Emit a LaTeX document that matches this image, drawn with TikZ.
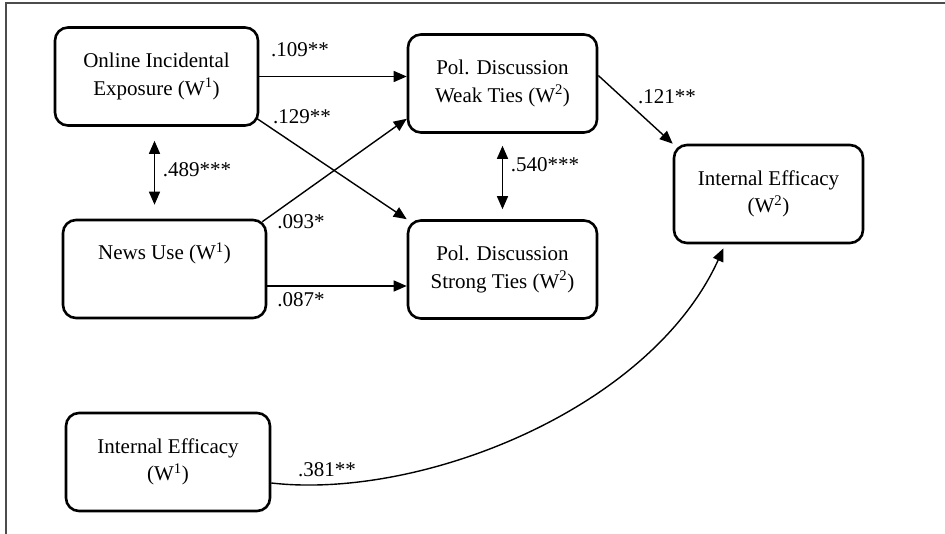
\documentclass[tikz,border=0pt]{standalone}
\usepackage{fontspec}
\setmainfont{Liberation Serif}
\usetikzlibrary{arrows.meta}

\begin{document}
\begin{tikzpicture}[
	x=1pt, y=-1pt,
	every node/.style={font=\fontsize{21}{27.5}\selectfont},
	construct/.style={rectangle, draw, line width=2.6pt, rounded corners=13pt,
		align=center, inner sep=0pt, minimum height=98pt},
	path/.style={line width=1.4pt, -{Triangle[length=13pt,width=11pt]}},
	twoway/.style={line width=1.4pt, {Triangle[length=13pt,width=11pt]}-{Triangle[length=13pt,width=11pt]}},
	est/.style={inner sep=0pt},
	]
\useasboundingbox (0,0) rectangle (945,534);
% frame
\draw[line width=2pt, black!70] (6,534) -- (6,3) -- (945,3);

% constructs
\node [construct, minimum width=203pt] (oie) at (156.5,76.5) {Online Incidental\\Exposure (W\textsuperscript{1})};
\node [construct, minimum width=203pt] (nu) at (164.5,269) {News Use (W\textsuperscript{1})\\ \strut};
\node [construct, minimum width=189pt] (wt) at (502.5,83.5) {Pol. Discussion\\Weak Ties (W\textsuperscript{2})};
\node [construct, minimum width=189pt] (st) at (502.5,269.5) {Pol. Discussion\\Strong Ties (W\textsuperscript{2})};
\node [construct, minimum width=189pt] (ie2) at (768.5,194) {Internal Efficacy\\(W\textsuperscript{2})};
\node [construct, minimum width=204pt] (ie1) at (168,462) {Internal Efficacy\\(W\textsuperscript{1})};

% paths
\draw[path] (oie.east) -- (oie.east -| wt.west);
\draw[path] ([xshift=-2pt,yshift=8pt]oie.south east) -- (st.north west);
\draw[path] ([xshift=-5pt,yshift=-3pt]nu.north east) -- ([yshift=15pt]wt.south west);
\draw[path] ([yshift=-17pt]nu.east) -- ([yshift=-17pt]nu.east -| st.west);
\draw[path] ([yshift=8pt]wt.east) -- (ie2.north west);
\draw[path] (ie1.east |- 0,483) .. controls (420,500) and (650,410) .. ([xshift=-45pt,yshift=-4pt]ie2.south);
\draw[twoway, shorten <=14pt, shorten >=14pt] ([xshift=-2pt]oie.south) -- ([xshift=-2pt]oie.south |- nu.north);
\draw[twoway, shorten <=12pt, shorten >=10pt] (wt.south) -- (st.north);

% estimates
\node [est] (b1) at (300,50) {.109**};
\node [est] (b2) at (302,117) {.129**};
\node [est] (b3) at (301,222) {.093*};
\node [est] (b4) at (301,300) {.087*};
\node [est] (r1) at (197,170) {.489***};
\node [est] (r2) at (545,165) {.540***};
\node [est] (b5) at (667,97) {.121**};
\node [est] (b6) at (327,470) {.381**};
\end{tikzpicture}
\end{document}
